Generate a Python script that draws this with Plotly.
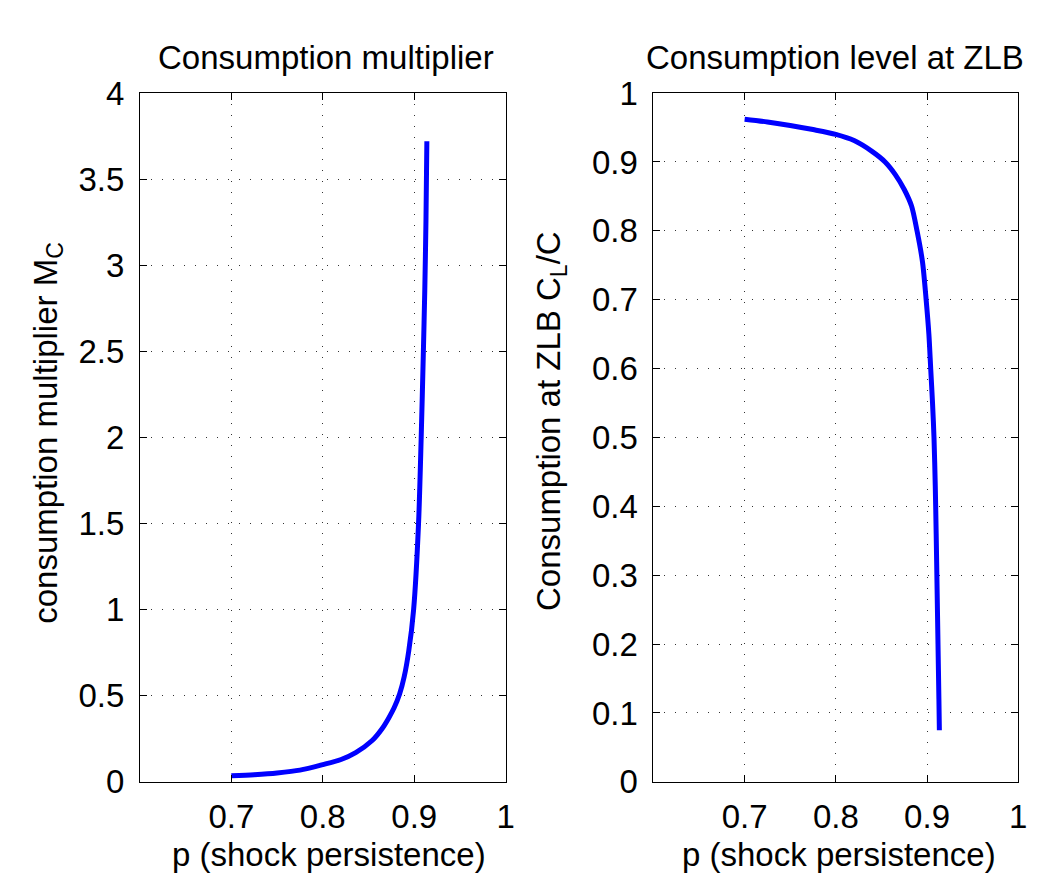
import plotly.graph_objects as go

# ---- data ----
p_mult = [0.700, 0.725, 0.750, 0.775, 0.800, 0.820, 0.836, 0.854, 0.865, 0.872, 0.878, 0.884,
          0.889, 0.894, 0.8993, 0.9047, 0.9076, 0.9100, 0.9115, 0.9128, 0.9138]
mult = [0.035, 0.042, 0.052, 0.068, 0.100, 0.130, 0.170, 0.240, 0.310, 0.370, 0.430, 0.510,
        0.610, 0.760, 1.000, 1.500, 2.000, 2.500, 2.850, 3.250, 3.720]

p_cons = [0.700, 0.725, 0.750, 0.775, 0.800, 0.820, 0.840, 0.854, 0.865, 0.875,
          0.883, 0.889, 0.895, 0.8990, 0.9020, 0.9040, 0.9060, 0.9076, 0.9090,
          0.9100, 0.9110, 0.9120, 0.9130, 0.9135]
cons = [0.962, 0.958, 0.953, 0.947, 0.940, 0.931, 0.915, 0.900, 0.882, 0.860,
        0.836, 0.800, 0.755, 0.700, 0.650, 0.600, 0.550, 0.500, 0.430,
        0.360, 0.280, 0.200, 0.120, 0.075]

x_ticks = [0.7, 0.8, 0.9, 1.0]
x_ticktext = ["0.7", "0.8", "0.9", "1"]
y1_ticks = [0, 0.5, 1, 1.5, 2, 2.5, 3, 3.5, 4]
y1_ticktext = ["0", "0.5", "1", "1.5", "2", "2.5", "3", "3.5", "4"]
y2_ticks = [0, 0.1, 0.2, 0.3, 0.4, 0.5, 0.6, 0.7, 0.8, 0.9, 1]
y2_ticktext = ["0", "0.1", "0.2", "0.3", "0.4", "0.5", "0.6", "0.7", "0.8", "0.9", "1"]

titles = ["Consumption multiplier", "Consumption level at ZLB"]
xlabel = "p (shock persistence)"
ylabels = ["consumption multiplier M<sub>C</sub>", "Consumption at ZLB C<sub>L</sub>/C"]

W, H = 1050, 881
FONT = "Liberation Sans, Arial, sans-serif"
FS = 33

fig = go.Figure()
fig.add_trace(go.Scatter(x=p_mult, y=mult, mode="lines",
                         line=dict(color="#0000FF", width=5, shape="spline", smoothing=0.8),
                         xaxis="x", yaxis="y", showlegend=False))
fig.add_trace(go.Scatter(x=p_cons, y=cons, mode="lines",
                         line=dict(color="#0000FF", width=5, shape="spline", smoothing=0.8),
                         xaxis="x2", yaxis="y2", showlegend=False))

def px_x(v):
    return v / W

def px_y(v):
    return 1 - v / H

common_axis = dict(showline=True, linecolor="black", linewidth=1, mirror="ticks",
                   ticks="inside", ticklen=7, tickcolor="black",
                   showgrid=True, gridcolor="#333333", gridwidth=1, griddash="1px,10px",
                   zeroline=False, tickfont=dict(family=FONT, size=FS, color="black"))

x1dom = [px_x(133), px_x(502)]
x2dom = [px_x(651), px_x(1019)]
ydom = [px_y(789), px_y(70)]

fig.update_layout(
    width=W, height=H,
    margin=dict(l=0, r=0, t=0, b=0),
    paper_bgcolor="white", plot_bgcolor="white",
    font=dict(family=FONT, size=FS, color="black"),
    xaxis=dict(domain=x1dom, range=[0.6, 1.0], tickvals=x_ticks, ticktext=x_ticktext,
               anchor="y", ticklabelstandoff=6, **common_axis),
    yaxis=dict(domain=ydom, range=[0, 4], tickvals=y1_ticks, ticktext=y1_ticktext,
               anchor="x", ticklabelstandoff=8, **common_axis),
    xaxis2=dict(domain=x2dom, range=[0.6, 1.0], tickvals=x_ticks, ticktext=x_ticktext,
                anchor="y2", ticklabelstandoff=6, **common_axis),
    yaxis2=dict(domain=ydom, range=[0, 1], tickvals=y2_ticks, ticktext=y2_ticktext,
                anchor="x2", ticklabelstandoff=8, **common_axis),
)

ann = []
# subplot titles
ann.append(dict(text=titles[0], x=px_x(321), y=px_y(33), xref="paper", yref="paper",
                xanchor="center", yanchor="middle", showarrow=False, font=dict(family=FONT, size=FS)))
ann.append(dict(text=titles[1], x=px_x(834), y=px_y(33), xref="paper", yref="paper",
                xanchor="center", yanchor="middle", showarrow=False, font=dict(family=FONT, size=FS)))
# x labels
ann.append(dict(text=xlabel, x=px_x(324), y=px_y(865), xref="paper", yref="paper",
                xanchor="center", yanchor="middle", showarrow=False, font=dict(family=FONT, size=FS)))
ann.append(dict(text=xlabel, x=px_x(838), y=px_y(865), xref="paper", yref="paper",
                xanchor="center", yanchor="middle", showarrow=False, font=dict(family=FONT, size=FS)))
# y labels
ann.append(dict(text=ylabels[0], x=px_x(40), y=px_y(425), xref="paper", yref="paper",
                xanchor="center", yanchor="middle", textangle=-90, showarrow=False, font=dict(family=FONT, size=FS)))
ann.append(dict(text=ylabels[1], x=px_x(547), y=px_y(412), xref="paper", yref="paper",
                xanchor="center", yanchor="middle", textangle=-90, showarrow=False, font=dict(family=FONT, size=FS)))
fig.update_layout(annotations=ann)

fig.write_html("out.html")
